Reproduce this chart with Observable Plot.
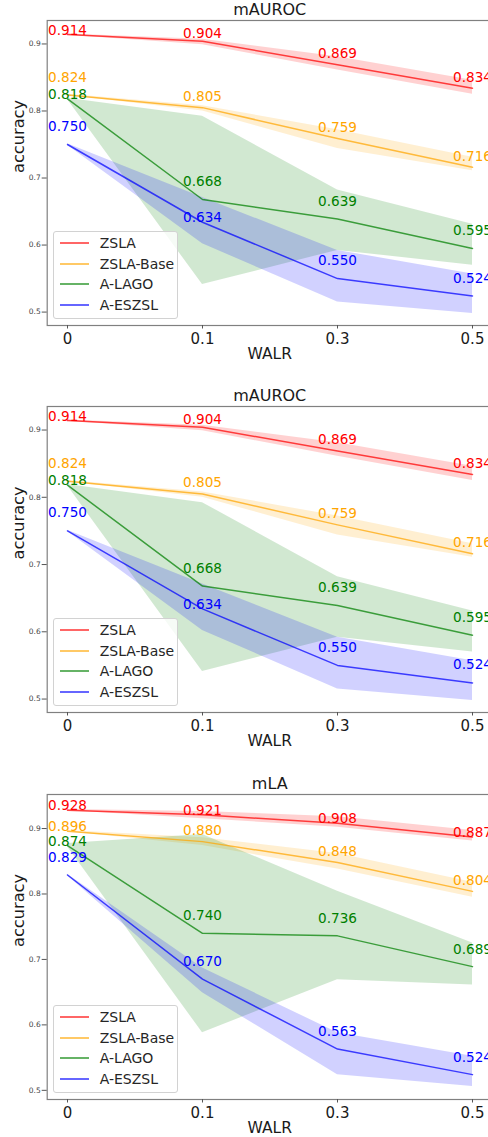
<!DOCTYPE html>
<html>
<head>
<meta charset="utf-8">
<script src="https://cdn.jsdelivr.net/npm/d3@7"></script>
<script src="https://cdn.jsdelivr.net/npm/@observablehq/plot@0.6"></script>
<style>
  html, body { margin: 0; padding: 0; background: #fff; overflow: hidden; }
  body { width: 488px; font-family: "DejaVu Sans", sans-serif; }
  .panel { position: relative; width: 488px; overflow: hidden; }
  .panel svg { display: block; max-width: none !important; }
  .legend { position: absolute; box-sizing: border-box; width: 124.5px; height: 88px;
            padding: 0.5px 0 0 5.4px; background: rgba(255,255,255,0.8);
            border: 1px solid #d2d2d2; border-radius: 3px; }
  .legend .row { display: flex; align-items: center; height: 20.7px; font-size: 14px; color: #262626; white-space: nowrap; }
  .legend .sw { display: inline-block; width: 29px; height: 2px; margin-right: 11px; }
</style>
</head>
<body>
<div id="root"></div>
<script>
// ---- data ----
const walr = ["0", "0.1", "0.3", "0.5"];
const methods = ["ZSLA", "ZSLA-Base", "A-LAGO", "A-ESZSL"];
const methodColors = ["red", "orange", "green", "blue"];
const panelTitles = ["mAUROC", "mAUROC", "mLA"];
const yTicks = [0.5, 0.6, 0.7, 0.8, 0.9];

// mAUROC (rows follow `methods`, columns follow `walr`)
const aurocMean = [
  [0.914, 0.904, 0.869, 0.834],
  [0.824, 0.805, 0.759, 0.716],
  [0.818, 0.668, 0.639, 0.595],
  [0.750, 0.634, 0.550, 0.524]
];
const aurocLow = [
  [0.913, 0.899, 0.861, 0.825],
  [0.823, 0.800, 0.744, 0.711],
  [0.817, 0.541, 0.592, 0.570],
  [0.749, 0.602, 0.515, 0.498]
];
const aurocHigh = [
  [0.915, 0.907, 0.881, 0.846],
  [0.825, 0.808, 0.772, 0.731],
  [0.819, 0.792, 0.682, 0.631],
  [0.751, 0.671, 0.592, 0.557]
];
// mLA
const mlaMean = [
  [0.928, 0.921, 0.908, 0.887],
  [0.896, 0.880, 0.848, 0.804],
  [0.874, 0.740, 0.736, 0.689],
  [0.829, 0.670, 0.563, 0.524]
];
const mlaLow = [
  [0.927, 0.915, 0.902, 0.881],
  [0.895, 0.874, 0.838, 0.795],
  [0.872, 0.588, 0.669, 0.661],
  [0.828, 0.649, 0.524, 0.506]
];
const mlaHigh = [
  [0.929, 0.926, 0.918, 0.897],
  [0.897, 0.886, 0.862, 0.818],
  [0.877, 0.891, 0.804, 0.725],
  [0.830, 0.687, 0.588, 0.552]
];
// annotation lift above each point (value units)
const aurocLabelLift = [
  [0, 0.005, 0.01, 0.01],
  [0.02, 0.01, 0.01, 0.01],
  [0, 0.02, 0.02, 0.02],
  [0.02, 0, 0.02, 0.02]
];
const mlaLabelLift = [
  [0, 0, 0, 0],
  [0, 0.01, 0.01, 0.01],
  [0, 0.02, 0.02, 0.02],
  [0.02, 0.02, 0.02, 0.02]
];

// ---- drawing ----
function makePanel(title, mean, low, high, lift, yDomain, layout) {
  const rows = [];
  methods.forEach((m, i) => walr.forEach((w, j) => rows.push({
    method: m, walr: w, mean: mean[i][j], low: low[i][j], high: high[i][j],
    labelY: mean[i][j] + lift[i][j], label: mean[i][j].toFixed(3)
  })));
  const {height, marginTop, marginBottom} = layout;
  const chart = Plot.plot({
    width: 495, height, marginLeft: 46.7, marginRight: 3.3, marginTop, marginBottom,
    style: {fontFamily: "DejaVu Sans", background: "white", color: "#1a1a1a"},
    x: {type: "point", domain: walr, padding: 0.148},
    y: {domain: yDomain},
    color: {domain: methods, range: methodColors},
    marks: [
      Plot.areaY(rows, {x: "walr", y1: "low", y2: "high", fill: "method", z: "method", fillOpacity: 0.18}),
      Plot.lineY(rows, {x: "walr", y: "mean", stroke: "method", z: "method", strokeWidth: 1.5, strokeOpacity: 0.72}),
      Plot.text(rows, {x: "walr", y: "labelY", text: "label", fill: "method", lineAnchor: "bottom", fontSize: 13.6}),
      Plot.frame({stroke: "#808080", strokeWidth: 1.2}),
      Plot.axisX({tickSize: 3.5, tickPadding: 3.9, fontSize: 15, stroke: "#555", fill: "#1a1a1a", label: null}),
      Plot.axisY({ticks: yTicks, tickFormat: d3.format(".1f"), tickSize: 5, tickPadding: 1.5, fontSize: 7.5, stroke: "#555", fill: "#444", label: null}),
      Plot.text(["WALR"], {frameAnchor: "bottom", dy: 33, lineAnchor: "bottom", fontSize: 15.5, fill: "#1a1a1a"}),
      Plot.text(["accuracy"], {frameAnchor: "left", dx: -28, rotate: -90, lineAnchor: "middle", fontSize: 16.2, fill: "#1a1a1a"}),
      Plot.text([title], {frameAnchor: "top", dy: -10.5, lineAnchor: "middle", fontSize: 16, fill: "#1a1a1a"})
    ]
  });
  const wrap = document.createElement("div");
  wrap.className = "panel";
  wrap.style.height = height + "px";
  wrap.appendChild(chart);
  const frameH = height - marginTop - marginBottom;
  const legend = document.createElement("div");
  legend.className = "legend";
  legend.style.left = "53.3px";
  legend.style.top = (marginTop + frameH - 6 - 88) + "px";
  methods.forEach((m, i) => {
    const row = document.createElement("div");
    row.className = "row";
    const sw = document.createElement("span");
    sw.className = "sw";
    sw.style.background = methodColors[i];
    sw.style.opacity = 0.6;
    const tx = document.createElement("span");
    tx.textContent = m;
    row.appendChild(sw);
    row.appendChild(tx);
    legend.appendChild(row);
  });
  wrap.appendChild(legend);
  return wrap;
}

const root = document.getElementById("root");
root.appendChild(makePanel(panelTitles[0], aurocMean, aurocLow, aurocHigh, aurocLabelLift, [0.480, 0.935],
  {height: 386, marginTop: 20, marginBottom: 61}));
root.appendChild(makePanel(panelTitles[1], aurocMean, aurocLow, aurocHigh, aurocLabelLift, [0.480, 0.935],
  {height: 387, marginTop: 20, marginBottom: 61}));
root.appendChild(makePanel(panelTitles[2], mlaMean, mlaLow, mlaHigh, mlaLabelLift, [0.486, 0.952],
  {height: 364, marginTop: 21, marginBottom: 38}));
</script>
</body>
</html>
